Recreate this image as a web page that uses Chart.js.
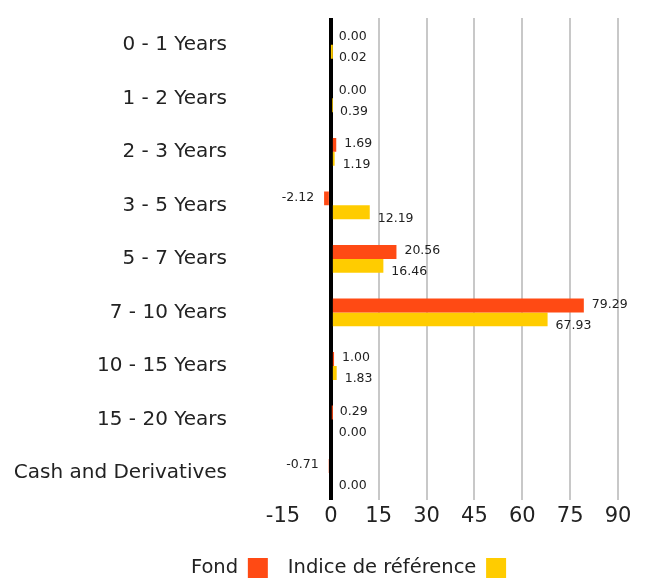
<!DOCTYPE html>
<html>
<head>
<meta charset="utf-8">
<script src="https://cdn.jsdelivr.net/npm/chart.js@4"></script>
<style>
  html, body { margin: 0; padding: 0; background: #fff; }
  #wrap { width: 648px; height: 583px; }
</style>
</head>
<body>
<div id="wrap"><canvas id="chart"></canvas></div>
<script>
const categories = ['0 - 1 Years', '1 - 2 Years', '2 - 3 Years', '3 - 5 Years', '5 - 7 Years',
  '7 - 10 Years', '10 - 15 Years', '15 - 20 Years', 'Cash and Derivatives'];
const fondValues = [0.00, 0.00, 1.69, -2.12, 20.56, 79.29, 1.00, 0.29, -0.71];
const indiceValues = [0.02, 0.39, 1.19, 12.19, 16.46, 67.93, 1.83, 0.00, 0.00];
const seriesNames = ['Fond', 'Indice de référence'];
const xTicks = [-15, 0, 15, 30, 45, 60, 75, 90];

const FONT = '"DejaVu Sans", sans-serif';

// étiquettes de valeurs à côté des barres
const valueLabels = {
  id: 'valueLabels',
  afterDatasetsDraw(chart) {
    const ctx = chart.ctx;
    ctx.save();
    ctx.font = '12.5px ' + FONT;
    ctx.fillStyle = '#222';
    ctx.textBaseline = 'middle';
    chart.data.datasets.forEach((ds, di) => {
      const meta = chart.getDatasetMeta(di);
      meta.data.forEach((el, i) => {
        const v = ds.data[i];
        const y = el.y + (di === 0 ? -1 : 6);
        if (v < 0) {
          ctx.textAlign = 'right';
          ctx.fillText(v.toFixed(2), el.x - 10, y);
        } else {
          ctx.textAlign = 'left';
          ctx.fillText(v.toFixed(2), el.x + 8, y);
        }
      });
    });
    ctx.restore();
  }
};

// la légende est un peu décalée vers la droite et vers le bas
const legendShift = {
  id: 'legendShift',
  afterLayout(chart) {
    const l = chart.legend;
    l.left += 32; l.right += 32;
    l.top += 5; l.bottom += 5;
  }
};

new Chart(document.getElementById('chart'), {
  type: 'bar',
  data: {
    labels: categories,
    datasets: [
      { label: seriesNames[0], data: fondValues, backgroundColor: '#FF4A14' },
      { label: seriesNames[1], data: indiceValues, backgroundColor: '#FFCC00' }
    ]
  },
  options: {
    indexAxis: 'y',
    responsive: true,
    maintainAspectRatio: false,
    animation: false,
    categoryPercentage: 0.52,
    barPercentage: 1,
    layout: { padding: { left: 15, right: 30, top: 18, bottom: 0 } },
    scales: {
      x: {
        min: -15,
        max: 90,
        afterBuildTicks: (axis) => { axis.ticks = xTicks.map(v => ({ value: v })); },
        border: { display: false },
        grid: {
          drawTicks: false,
          color: (c) => c.tick.value === 0 ? '#000' : (c.tick.value === -15 ? 'rgba(0,0,0,0)' : '#c8c8c8'),
          lineWidth: (c) => c.tick.value === 0 ? 4 : 2
        },
        ticks: { color: '#222', font: { family: FONT, size: 21 }, padding: 4 }
      },
      y: {
        border: { display: false },
        grid: { display: false, drawTicks: false },
        ticks: { color: '#222', font: { family: FONT, size: 20 }, padding: 56 },
        afterFit(scale) { scale.width = 268; scale.paddingTop = 0; scale.paddingBottom = 0; }
      }
    },
    plugins: {
      tooltip: { enabled: false },
      legend: {
        position: 'bottom',
        rtl: true,
        reverse: true,
        labels: {
          color: '#222',
          font: { family: FONT, size: 19.5 },
          boxWidth: 20,
          boxHeight: 20,
          padding: 20
        }
      }
    }
  },
  plugins: [valueLabels, legendShift]
});
</script>
</body>
</html>
